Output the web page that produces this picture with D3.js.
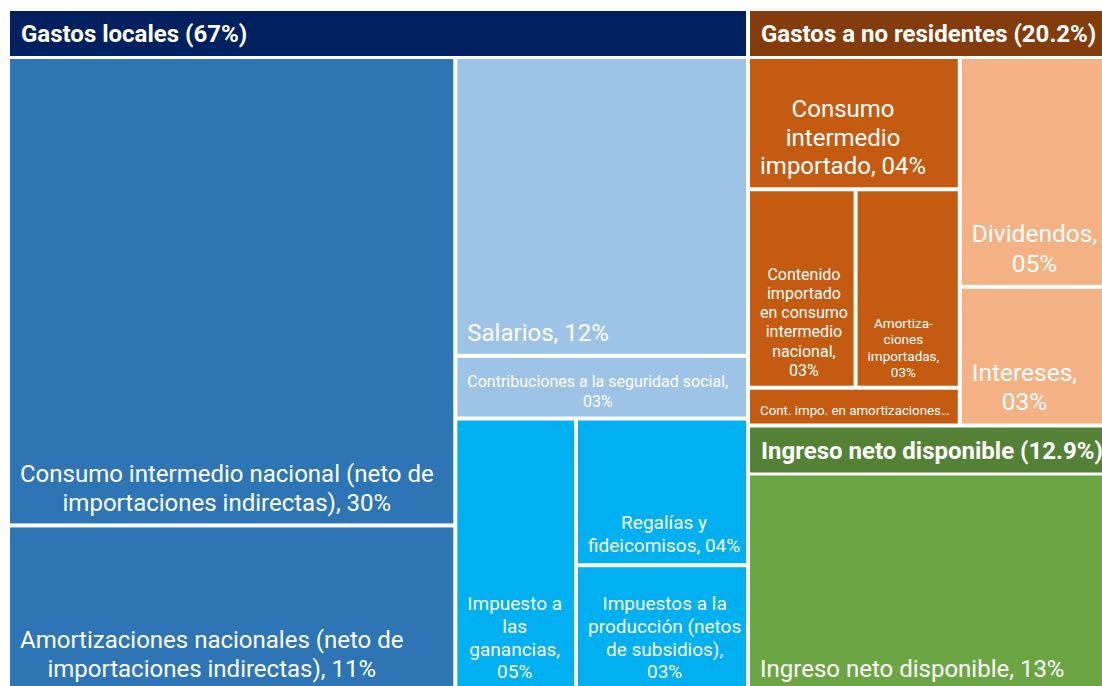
<!DOCTYPE html>
<html>
<head>
<meta charset="utf-8">
<script src="https://cdn.jsdelivr.net/npm/d3@7"></script>
<style>
  html, body { margin: 0; padding: 0; background: #ffffff; }
  svg { display: block; font-family: Roboto, "Noto Sans", sans-serif; }
</style>
</head>
<body>
<svg id="chart" width="1102" height="686"></svg>
<script>
// ---------------- DATA ----------------
const groupNames = ["Gastos locales", "Gastos a no residentes", "Ingreso neto disponible"];

const localNames = [
  "Consumo intermedio nacional (neto de importaciones indirectas)",
  "Amortizaciones nacionales (neto de importaciones indirectas)",
  "Salarios",
  "Contribuciones a la seguridad social",
  "Impuesto a las ganancias",
  "Regalías y fideicomisos",
  "Impuestos a la producción (netos de subsidios)"
];
const localValues = [29.9, 10.6, 12.48, 2.62, 4.7, 3.6, 3.1];
const localLabels = [
  "Consumo intermedio nacional (neto de\nimportaciones indirectas), {p}",
  "Amortizaciones nacionales (neto de\nimportaciones indirectas), {p}",
  "Salarios, {p}",
  "Contribuciones a la seguridad social,\n{p}",
  "Impuesto a\nlas\nganancias,\n{p}",
  "Regalías y\nfideicomisos, {p}",
  "Impuestos a la\nproducción (netos\nde subsidios),\n{p}"
];

const foreignNames = [
  "Consumo intermedio importado",
  "Contenido importado en consumo intermedio nacional",
  "Amortizaciones importadas",
  "Contenido importado en amortizaciones nacionales",
  "Dividendos",
  "Intereses"
];
const foreignValues = [4.2, 3.2, 3.1, 1.2, 5.3, 3.2];
const foreignLabels = [
  "Consumo\nintermedio\nimportado, {p}",
  "Contenido\nimportado\nen consumo\nintermedio\nnacional,\n{p}",
  "Amortiza-\nciones\nimportadas,\n{p}",
  "Cont. impo. en amortizaciones…",
  "Dividendos,\n{p}",
  "Intereses,\n{p}"
];

const incomeNames = ["Ingreso neto disponible"];
const incomeValues = [12.9];
const incomeLabels = ["Ingreso neto disponible, {p}"];

// ---------------- STYLE ----------------
const headerColors = ["#002060", "#843C0C", "#548235"];
const leafColors = [
  ["#2E75B6", "#2E75B6", "#9DC3E6", "#9DC3E6", "#00B0F0", "#00B0F0", "#00B0F0"],
  ["#C55A11", "#C55A11", "#C55A11", "#C55A11", "#F4B183", "#F4B183"],
  ["#6CA644"]
];
const leafFont = [
  [24, 24, 24, 16, 19, 19, 19],
  [24, 16, 13.5, 13.3, 24.5, 24.5],
  [24]
];

// tiling structure (order of splits, as in the reference)
const tiling = {
  root: { dir: "h", parts: [0, { dir: "v", parts: [1, 2] }] },
  "Gastos locales": { dir: "h", parts: [
    { dir: "v", parts: [0, 1] },
    { dir: "v", parts: [2, 3, { dir: "h", parts: [4, { dir: "v", parts: [5, 6] }] }] }
  ] },
  "Gastos a no residentes": { dir: "h", parts: [
    { dir: "v", parts: [0, { dir: "h", parts: [1, 2] }, 3] },
    { dir: "v", parts: [4, 5] }
  ] },
  "Ingreso neto disponible": 0
};

// ---------------- BUILD ----------------
const sets = [
  [localNames, localValues, localLabels],
  [foreignNames, foreignValues, foreignLabels],
  [incomeNames, incomeValues, incomeLabels]
];
const data = {
  name: "root",
  children: groupNames.map((g, gi) => ({
    name: g,
    gi: gi,
    children: sets[gi][0].map((n, i) => ({
      name: n, value: sets[gi][1][i], label: sets[gi][2][i], gi: gi, li: i
    }))
  }))
};

function specValue(spec, kids) {
  return typeof spec === "number" ? kids[spec].value : d3.sum(spec.parts, p => specValue(p, kids));
}
function place(spec, kids, x0, y0, x1, y1) {
  if (typeof spec === "number") {
    const c = kids[spec];
    c.x0 = x0; c.y0 = y0; c.x1 = x1; c.y1 = y1;
    return;
  }
  const total = specValue(spec, kids);
  const horiz = spec.dir === "h";
  let cur = horiz ? x0 : y0;
  const span = horiz ? x1 - x0 : y1 - y0;
  spec.parts.forEach(p => {
    const s = span * specValue(p, kids) / total;
    if (horiz) place(p, kids, cur, y0, cur + s, y1);
    else place(p, kids, x0, cur, x1, cur + s);
    cur += s;
  });
}
function customTile(node, x0, y0, x1, y1) {
  place(tiling[node.data.name], node.children, x0, y0, x1, y1);
}

const W = 1101.6, H = 678.5, HEADER = 45;
const root = d3.hierarchy(data).sum(d => d.value || 0);
d3.treemap()
  .size([W, H])
  .tile(customTile)
  .paddingInner(4)
  .paddingTop(d => d.depth === 1 ? HEADER + 3 : 0)
  .round(false)(root);

const svg = d3.select("#chart");
const g = svg.append("g").attr("transform", "translate(10,11)");

const pctFmt = v => d3.format("02d")(Math.round(v)) + "%";

// leaves
const leaves = g.selectAll("g.leaf").data(root.leaves()).join("g").attr("class", "leaf");
leaves.append("rect")
  .attr("x", d => d.x0).attr("y", d => d.y0)
  .attr("width", d => d.x1 - d.x0).attr("height", d => d.y1 - d.y0)
  .attr("fill", d => leafColors[d.data.gi][d.data.li]);

leaves.each(function(d) {
  const fs = leafFont[d.data.gi][d.data.li];
  const lines = d.data.label.replace("{p}", pctFmt(d.value)).split("\n");
  const lh = fs * 1.2;
  const lastBase = d.y1 - (4 + 0.37 * fs);
  const t = d3.select(this).append("text")
    .attr("fill", "#ffffff")
    .attr("font-size", fs)
    .attr("text-anchor", "middle");
  const spans = lines.map((ln, i) => t.append("tspan")
    .attr("y", lastBase - (lines.length - 1 - i) * lh)
    .text(ln));
  const widths = spans.map(s => s.node().getComputedTextLength());
  const maxW = d3.max(widths);
  const cx = d.x0 + 10 + maxW / 2;
  spans.forEach(s => s.attr("x", cx));
});

// group headers
const groups = g.selectAll("g.grp").data(root.children).join("g").attr("class", "grp");
groups.append("rect")
  .attr("x", d => d.x0).attr("y", d => d.y0)
  .attr("width", d => d.x1 - d.x0).attr("height", HEADER)
  .attr("fill", d => headerColors[d.data.gi]);
groups.append("text")
  .attr("x", d => d.x0 + 11)
  .attr("y", d => d.y0 + HEADER / 2 + 8.5)
  .attr("fill", "#ffffff")
  .attr("font-size", 24)
  .attr("font-weight", "bold")
  .text(d => d.data.name + " (" + (+d.value.toFixed(1)) + "%)");
</script>
</body>
</html>
